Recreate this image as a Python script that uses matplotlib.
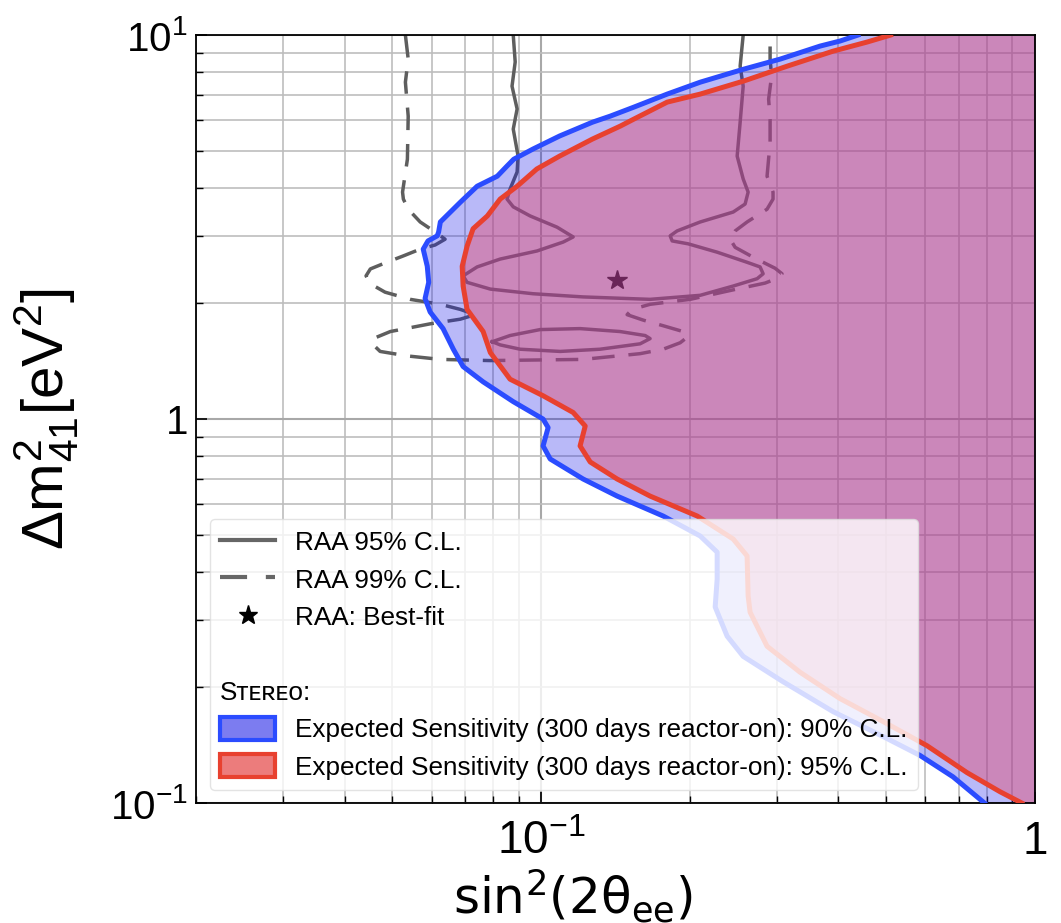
import numpy as np
import matplotlib
matplotlib.use('Agg')
import matplotlib.pyplot as plt
from matplotlib.lines import Line2D
from matplotlib.patches import Patch

plt.rcParams['font.family'] = ['Liberation Sans', 'DejaVu Sans']

# Expected sensitivity, 90% C.L. (dm2 in eV^2, sin^2(2theta))
blue_dm2 = [10.0, 9.65, 9.36, 8.66, 8.15, 7.54, 7.02, 6.49, 6.15, 5.93, 5.46, 5.05,
            4.75, 4.56, 4.29, 4.04, 3.67, 3.26, 3.07, 3.00, 2.91, 2.77, 2.50, 2.27,
            2.06, 1.90, 1.72, 1.52, 1.37, 1.25, 1.11, 1.00, 0.95, 0.851, 0.787,
            0.698, 0.630, 0.559, 0.496, 0.450, 0.383, 0.324, 0.272, 0.241, 0.207,
            0.173, 0.149, 0.133, 0.117, 0.100]
blue_sin = [0.438, 0.403, 0.367, 0.305, 0.257, 0.210, 0.180, 0.154, 0.138, 0.127,
            0.109, 0.0963, 0.0880, 0.0853, 0.0815, 0.0742, 0.0686, 0.0625, 0.0620,
            0.0616, 0.0590, 0.0577, 0.0588, 0.0592, 0.0582, 0.0596, 0.0633, 0.0664,
            0.0695, 0.0763, 0.0878, 0.1009, 0.1033, 0.1009, 0.1043, 0.1216, 0.1425,
            0.1766, 0.2099, 0.2272, 0.2272, 0.2251, 0.2380, 0.2565, 0.3088, 0.3900,
            0.4924, 0.5851, 0.6823, 0.79]

# Expected sensitivity, 95% C.L.
red_dm2 = [10.0, 9.59, 9.08, 8.30, 7.59, 7.02, 6.69, 6.04, 5.79, 5.36, 4.84, 4.48,
           4.04, 3.74, 3.38, 3.13, 2.82, 2.50, 2.22, 1.93, 1.69, 1.49, 1.27, 1.15,
           1.04, 0.959, 0.851, 0.773, 0.698, 0.630, 0.559, 0.487, 0.440, 0.346,
           0.314, 0.256, 0.219, 0.187, 0.163, 0.141, 0.120, 0.107, 0.100]
red_sin = [0.510, 0.457, 0.390, 0.315, 0.257, 0.210, 0.180, 0.154, 0.1445, 0.127,
           0.109, 0.098, 0.0894, 0.0826, 0.0778, 0.0728, 0.0708, 0.0692, 0.0695,
           0.0708, 0.0763, 0.0789, 0.0865, 0.1009, 0.1161, 0.1228, 0.1199, 0.1257,
           0.1425, 0.1662, 0.2070, 0.2448, 0.2612, 0.2625, 0.2649, 0.2867, 0.3345,
           0.4030, 0.4924, 0.6044, 0.7283, 0.8495, 0.94]

# RAA allowed regions
raa95_sin = [0.0878, 0.0886, 0.0873, 0.0894, 0.0878, 0.0898, 0.0894, 0.0865, 0.0853,
             0.0878, 0.0950, 0.1077, 0.1161, 0.1108, 0.0981, 0.0826, 0.0742, 0.0695,
             0.0708, 0.0789, 0.0963, 0.1216, 0.1662, 0.2099, 0.2448, 0.2737, 0.2815,
             0.2775, 0.2612, 0.2272, 0.1984, 0.1842, 0.1825, 0.1885, 0.2099, 0.2448,
             0.2588, 0.2625, 0.2565, 0.2494, 0.2529, 0.2565, 0.2529, 0.2565]
raa95_dm2 = [10.0, 8.51, 7.36, 6.42, 5.69, 4.84, 4.40, 3.97, 3.74, 3.57, 3.38, 3.16,
             2.98, 2.89, 2.74, 2.61, 2.49, 2.36, 2.27, 2.18, 2.12, 2.08, 2.05, 2.10,
             2.22, 2.32, 2.39, 2.49, 2.56, 2.72, 2.86, 2.91, 3.00, 3.09, 3.26, 3.46,
             3.63, 3.90, 4.22, 4.84, 5.93, 7.36, 8.30, 10.0]

raa95_island_sin = [0.0796, 0.0865, 0.0995, 0.1199, 0.1445, 0.1624, 0.1662, 0.1586,
                    0.1316, 0.1093, 0.0907, 0.0826, 0.0796]
raa95_island_dm2 = [1.59, 1.65, 1.71, 1.72, 1.69, 1.65, 1.62, 1.57, 1.52, 1.50, 1.52,
                    1.56, 1.59]

raa99_sin = [0.0531, 0.0538, 0.0531, 0.0538, 0.0536, 0.0524, 0.0526, 0.0538, 0.0569,
             0.0610, 0.0639, 0.0610, 0.0569, 0.0526, 0.0483, 0.0451, 0.0442, 0.0451,
             0.0483, 0.0543, 0.0625, 0.0686, 0.0735, 0.0686, 0.0596, 0.0495, 0.0457,
             0.0455, 0.0472, 0.0536, 0.0625, 0.0789, 0.1216, 0.1586, 0.1766, 0.1912,
             0.1984, 0.1938, 0.1766, 0.1609, 0.1493, 0.1528, 0.1662, 0.2003, 0.2448,
             0.2841, 0.3019, 0.3074, 0.2977, 0.2867, 0.2686, 0.2471, 0.2414, 0.2471,
             0.2612, 0.2867, 0.2948, 0.2948, 0.2867, 0.2908, 0.2908, 0.2888, 0.2928,
             0.2908, 0.2908]
raa99_dm2 = [10.0, 8.66, 7.54, 6.15, 4.75, 3.90, 3.74, 3.52, 3.26, 3.07, 2.94, 2.84,
             2.77, 2.66, 2.55, 2.46, 2.36, 2.25, 2.14, 2.05, 1.99, 1.93, 1.87, 1.82,
             1.77, 1.69, 1.62, 1.57, 1.50, 1.46, 1.43, 1.42, 1.43, 1.48, 1.52, 1.58,
             1.64, 1.69, 1.75, 1.81, 1.87, 1.93, 1.99, 2.05, 2.17, 2.26, 2.33, 2.39,
             2.47, 2.53, 2.64, 2.80, 2.94, 3.09, 3.26, 3.52, 3.74, 3.90, 4.29, 5.26,
             6.04, 6.81, 7.82, 8.66, 10.0]

best_fit_sin = 0.1426
best_fit_dm2 = 2.30

fig = plt.figure(figsize=(10.61, 9.23), dpi=100)
ax = fig.add_axes([0.1847, 0.130, 0.7908, 0.832])
ax.set_xscale('log')
ax.set_yscale('log')
ax.set_xlim(0.02, 1.0)
ax.set_ylim(0.1, 10.0)

# Grid
ax.set_axisbelow(True)
ax.grid(True, which='major', color='#a8a8a8', lw=1.5, zorder=0)
ax.grid(True, which='minor', color='#bdbdbd', lw=1.2, zorder=0)

# RAA contours
raa_col = '#5e5e5e'
ax.plot(raa95_sin, raa95_dm2, color=raa_col, lw=2.5, zorder=1)
ax.plot(raa95_island_sin, raa95_island_dm2, color=raa_col, lw=2.5, zorder=1)
ax.plot(raa99_sin, raa99_dm2, color=raa_col, lw=2.5, ls=(0, (6.5, 4.0)), zorder=1)
ax.plot(best_fit_sin, best_fit_dm2, marker='*', color='black', ms=15, ls='none', zorder=1)

# Excluded regions
ax.fill_betweenx(blue_dm2, blue_sin, 1.0, color='#1a1ae8', alpha=0.3, lw=0, zorder=2)
ax.fill_betweenx(red_dm2, red_sin, 1.0, color='#e24b70', alpha=0.45, lw=0, zorder=2)
ax.plot(blue_sin, blue_dm2, color='#2b4cff', lw=3.6, zorder=3)
ax.plot(red_sin, red_dm2, color='#e8412f', lw=3.6, zorder=3)

# Axes and ticks
ax.set_xticks([0.1, 1.0])
ax.set_xticklabels([r'$\mathregular{10^{-1}}$', r'$\mathregular{1}$'], fontsize=33)
ax.set_yticks([0.1, 1.0, 10.0])
ax.set_yticklabels([r'$\mathregular{10^{-1}}$', r'$\mathregular{1}$', r'$\mathregular{10^{1}}$'],
                   fontsize=29)
ax.tick_params(which='both', direction='in', top=False, right=False)
ax.tick_params(which='major', length=8, width=1.2)
ax.tick_params(which='minor', length=5, width=1.0)
ax.tick_params(axis='x', pad=12)
ax.tick_params(axis='y', pad=6)
for s in ax.spines.values():
    s.set_linewidth(1.3)

ax.set_xlabel(r'$\mathregular{sin^2(2\theta_{ee})}$', fontsize=36, family='DejaVu Sans')
ax.set_ylabel(r'$\mathregular{\Delta m^2_{41}[eV^2]}$', fontsize=42)
ax.xaxis.set_label_coords(0.449, -0.084)
ax.yaxis.set_label_coords(-0.137, 0.5)

# Legend
handles = [Line2D([], [], color='#666666', lw=3),
           Line2D([], [], color='#666666', lw=3, ls=(0, (6.5, 4.5))),
           Line2D([], [], color='black', marker='*', ms=14, ls='none'),
           Line2D([], [], color='none'),
           Line2D([], [], color='none'),
           Patch(facecolor='#7c7cf0', edgecolor='#2b4cff', lw=3),
           Patch(facecolor='#ec7c7c', edgecolor='#e8412f', lw=3)]
labels = ['RAA 95% C.L.', 'RAA 99% C.L.', 'RAA: Best-fit', ' ', ' ',
          'Expected Sensitivity (300 days reactor-on): 90% C.L.',
          'Expected Sensitivity (300 days reactor-on): 95% C.L.']
leg = ax.legend(handles, labels, loc='lower left', bbox_to_anchor=(0.0167, 0.017),
                borderaxespad=0, fontsize=18.8, handlelength=2.1, handleheight=1.0,
                handletextpad=0.75, labelspacing=0.45, borderpad=0.4,
                framealpha=0.8, edgecolor='#dddddd', fancybox=True)
leg.set_zorder(5)

# Experiment name sits on the empty legend row, aligned with the handles
fig.canvas.draw()
row = leg.get_texts()[4].get_window_extent()
x0 = leg.get_window_extent().x0 + 10
xa, ya = ax.transAxes.inverted().transform((x0, 0.5 * (row.y0 + row.y1)))
ax.text(xa, ya, 'Sᴛᴇʀᴇᴏ:', transform=ax.transAxes, fontsize=18.8, va='center',
        ha='left', zorder=6)

fig.savefig('out.png', dpi=100)
